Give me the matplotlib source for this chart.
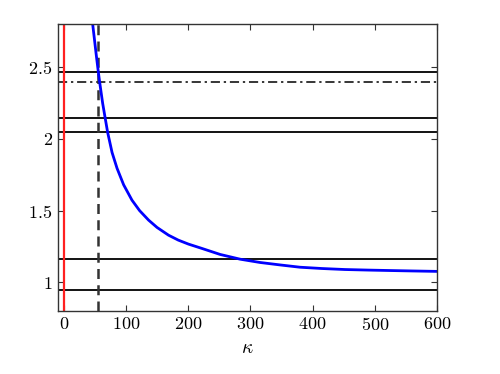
import numpy as np
import matplotlib.pyplot as plt

plt.rcParams['mathtext.fontset'] = 'cm'
plt.rcParams['font.family'] = 'serif'
plt.rcParams['font.serif'] = ['cmr10', 'DejaVu Serif']
plt.rcParams['axes.formatter.use_mathtext'] = True

# blue curve
kappa = [46.5, 52, 55.7, 58.4, 62.6, 66.9, 70.6, 77.7, 85.7, 96.3, 109.7, 122, 136.4, 150,
         168.5, 184, 200.5, 222, 251.4, 283.5, 315.6, 347.7, 379.8, 415, 451.9, 490, 524.1, 560, 600]
curve = [2.80, 2.595, 2.463, 2.375, 2.247, 2.138, 2.045, 1.905, 1.795, 1.680, 1.573, 1.500, 1.434, 1.383,
         1.329, 1.295, 1.267, 1.237, 1.195, 1.162, 1.139, 1.122, 1.106, 1.097, 1.090, 1.086, 1.083, 1.080, 1.077]

# horizontal reference levels
solid_levels = [2.465, 2.142, 2.047, 1.160, 0.948]
dashdot_level = 2.393
kappa_red = 0
kappa_dashed = 55

fig = plt.figure(figsize=(5, 3.74), dpi=100)
ax = fig.add_axes([0.115, 0.168, 0.759, 0.768])

for lv in solid_levels:
    ax.axhline(lv, color='black', lw=1.3)
ax.axhline(dashdot_level, color='black', lw=1.1, ls=(0, (6, 2.5, 1.5, 2.5)))
ax.axvline(kappa_red, color='#ff2020', lw=1.6)
ax.axvline(kappa_dashed, color='#333333', lw=1.8, ls=(0, (4, 2.5)))
ax.plot(kappa, curve, color='blue', lw=2, solid_joinstyle='round')

ax.set_xlim(-10, 600)
ax.set_ylim(0.8, 2.8)
ax.set_xticks(np.arange(0, 601, 100))
ax.set_yticks([1, 1.5, 2, 2.5])
ax.set_yticklabels(['$1$', '$1.5$', '$2$', '$2.5$'])
ax.set_xticklabels([f'${v}$' for v in range(0, 601, 100)])
ax.tick_params(direction='in', top=True, right=True, labelsize=13, length=4, color='#333333')
for s in ax.spines.values():
    s.set_color('#333333')
    s.set_linewidth(1.0)
ax.set_xlabel(r'$\kappa$', fontsize=14)

fig.savefig('out.png', dpi=100)
